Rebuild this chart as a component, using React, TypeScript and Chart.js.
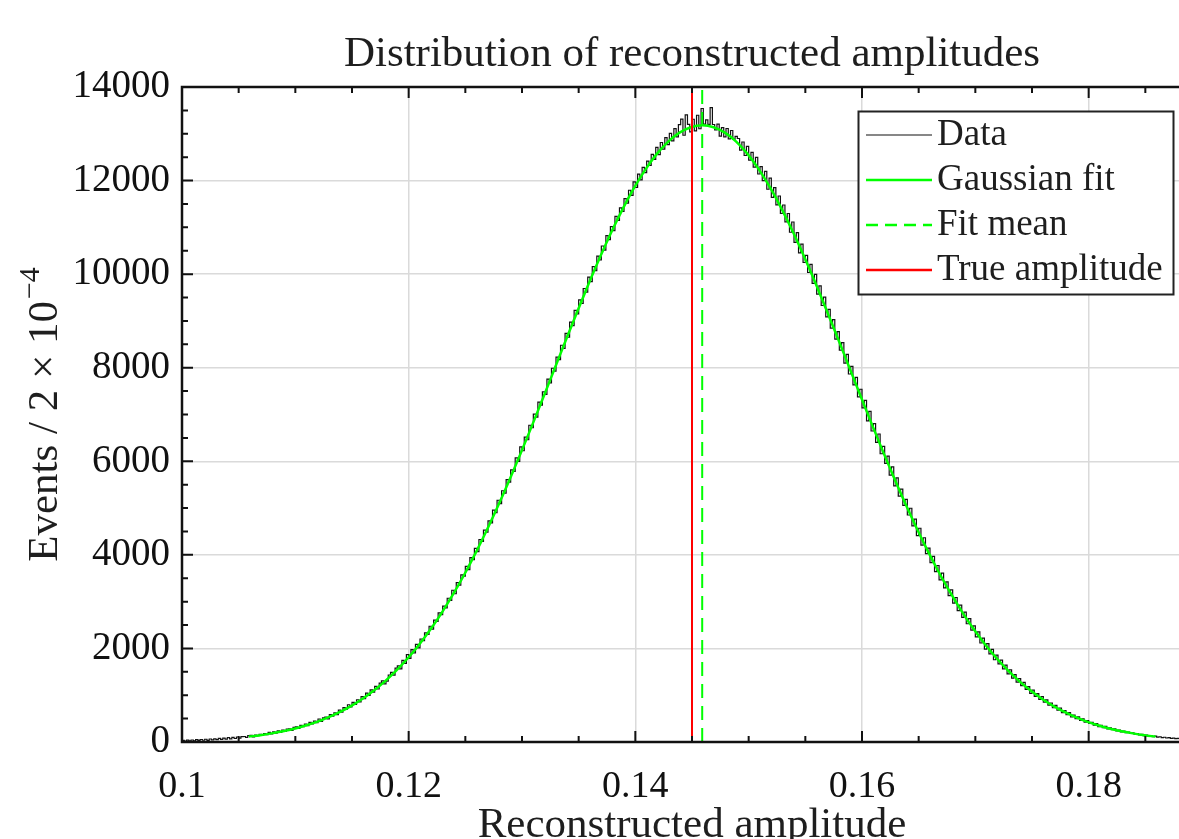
import React, { useEffect, useRef } from "react";
import { Chart, registerables } from "chart.js";

Chart.register(...registerables);

const CHART_TITLE = "Distribution of reconstructed amplitudes";
const X_TITLE = "Reconstructed amplitude";
const Y_TITLE_MAIN = "Events / 2 × 10";
const Y_TITLE_EXP = "−4";

const X_MIN = 0.1;
const X_MAX = 0.19;
const Y_MIN = 0;
const Y_MAX = 14000;
const X_TICKS = [0.1, 0.12, 0.14, 0.16, 0.18];
const Y_TICKS = [0, 2000, 4000, 6000, 8000, 10000, 12000, 14000];
const X_MINOR_STEP = 0.005;
const Y_MINOR_STEP = 500;

const LEGEND_LABELS = ["Data", "Gaussian fit", "Fit mean", "True amplitude"];

// histogram: bins of width 2e-4 starting at 0.1
const BIN_START = 0.1;
const BIN_WIDTH = 0.0002;
const DATA_COUNTS = [
  35, 20, 40, 23, 43,
  23, 51, 33, 53, 37,
  59, 34, 64, 45, 67,
  50, 77, 55, 82, 61,
  93, 65, 97, 75, 107,
  82, 115, 118, 97, 138,
  140, 110, 150, 134, 164,
  140, 179, 155, 204, 174,
  217, 190, 236, 205, 252,
  225, 274, 279, 250, 311,
  322, 292, 357, 327, 384,
  352, 418, 385, 445, 413,
  492, 441, 516, 531, 496,
  584, 552, 625, 587, 683,
  639, 735, 700, 796, 750,
  846, 801, 903, 856, 972,
  927, 1046, 997, 1114, 1063,
  1187, 1133, 1260, 1306, 1244,
  1302, 1432, 1489, 1431, 1579,
  1625, 1565, 1744, 1680, 1866,
  1788, 1976, 1904, 2086, 2012,
  2201, 2166, 2334, 2301, 2474,
  2412, 2605, 2579, 2758, 2724,
  2906, 2865, 3073, 3026, 3244,
  3169, 3405, 3350, 3572, 3543,
  3753, 3685, 3940, 3898, 4140,
  4067, 4328, 4286, 4527, 4486,
  4725, 4685, 4958, 4902, 5167,
  5097, 5370, 5318, 5607, 5555,
  5816, 5783, 6074, 5995, 6306,
  6225, 6515, 6460, 6770, 6717,
  7006, 6946, 7265, 7201, 7482,
  7431, 7754, 7676, 7989, 7926,
  8225, 8174, 8480, 8415, 8736,
  8651, 8974, 8900, 9227, 9148,
  9448, 9374, 9693, 9613, 9935,
  9842, 10159, 10075, 10384, 10305,
  10602, 10513, 10822, 10737, 11014,
  10931, 11236, 11147, 11418, 11343,
  11612, 11516, 11793, 11685, 11972,
  11854, 12139, 12017, 12280, 12170,
  12414, 12326, 12561, 12451, 12709,
  12556, 12814, 12671, 12919, 12768,
  13008, 12850, 13111, 12933, 13195,
  13312, 12969, 13405, 13202, 13039,
  13311, 13063, 13396, 13108, 13540,
  13208, 13296, 13203, 13560, 13199,
  13082, 13205, 12949, 13132, 12935,
  13113, 12891, 13070, 12888, 12946,
  12899, 12651, 12824, 12536, 12729,
  12435, 12601, 12288, 12494, 12140,
  12298, 11997, 12195, 11814, 12052,
  11641, 11851, 11480, 11670, 11299,
  11478, 11117, 11296, 10895, 11114,
  10681, 10888, 10455, 10642, 10249,
  10402, 10035, 10209, 9802, 9995,
  9573, 9751, 9330, 9508, 9086,
  9247, 8848, 9030, 8611, 8772,
  8375, 8538, 8100, 8283, 7866,
  8029, 7632, 7794, 7377, 7540,
  7141, 7303, 6864, 7066, 6647,
  6806, 6404, 6583, 6161, 6320,
  5955, 6110, 5705, 5880, 5475,
  5645, 5256, 5406, 5057, 5187,
  4852, 4996, 4621, 4765, 4410,
  4569, 4208, 4366, 4025, 4144,
  3836, 3968, 3641, 3773, 3465,
  3610, 3296, 3421, 3127, 3252,
  2970, 3089, 2807, 2926, 2664,
  2776, 2527, 2639, 2390, 2482,
  2247, 2352, 2116, 2221, 1986,
  2104, 1882, 1980, 1758, 1856,
  1668, 1750, 1561, 1643, 1455,
  1541, 1367, 1442, 1278, 1354,
  1204, 1274, 1125, 1185, 1041,
  1110, 975, 1034, 909, 970,
  850, 901, 787, 832, 732,
  782, 680, 723, 629, 673,
  585, 627, 538, 576, 498,
  537, 460, 495, 426, 457,
  395, 421, 360, 392, 330,
  357, 307, 332, 282, 303,
  262, 279, 236, 257, 216,
  235, 198, 214, 183, 196,
  168, 179, 151, 162, 136,
  148, 126, 136, 114, 124,
  105, 112, 95, 102, 85,
  93, 77, 83, 71, 77,
  64, 69, 57, 62, 51,
  57, 46, 50, 43, 47,
];

// Gaussian fit curve sampled every 0.001 from 0.1059
const FIT_START = 0.1059;
const FIT_STEP = 0.001;
const FIT_VALUES = [
  116, 146, 184, 230, 285, 352, 431, 526, 637, 768,
  920, 1095, 1296, 1525, 1784, 2074, 2398, 2756, 3148, 3575,
  4036, 4530, 5053, 5605, 6180, 6773, 7380, 7994, 8608, 9214,
  9805, 10371, 10906, 11401, 11848, 12240, 12571, 12834, 13025, 13141,
  13180,
  13141, 13025, 12834, 12571, 12240, 11848, 11401, 10906, 10371, 9805,
  9214, 8608, 7994, 7380, 6773, 6180, 5605, 5053, 4530, 4036,
  3575, 3148, 2756, 2398, 2074, 1784, 1525, 1296, 1095, 920,
  768, 637, 526, 431, 352, 285, 230, 184, 146, 116,
];

const FIT_MEAN = 0.1459;
const TRUE_AMPLITUDE = 0.145;

const SERIF = '"Liberation Serif", "Times New Roman", serif';
const GREEN = "#00ff00";
const RED = "#ff0000";
const DATA_COLOR = "#111111";
const TEXT_COLOR = "#1e1e1e";

const decorPlugin = {
  id: "decor",
  afterDatasetsDraw(chart: any) {
    const { ctx, chartArea: a, scales } = chart;
    const xs = scales.x;
    const ys = scales.y;
    ctx.save();
    ctx.strokeStyle = "#111";
    ctx.lineWidth = 2;
    ctx.beginPath();
    const nx = Math.round((X_MAX - X_MIN) / X_MINOR_STEP);
    for (let i = 0; i <= nx; i++) {
      const v = X_MIN + i * X_MINOR_STEP;
      const px = xs.getPixelForValue(v);
      const len = i % 4 === 0 ? 11 : 6;
      ctx.moveTo(px, a.bottom);
      ctx.lineTo(px, a.bottom - len);
      ctx.moveTo(px, a.top);
      ctx.lineTo(px, a.top + len);
    }
    const ny = Math.round((Y_MAX - Y_MIN) / Y_MINOR_STEP);
    for (let i = 0; i <= ny; i++) {
      const v = Y_MIN + i * Y_MINOR_STEP;
      const py = ys.getPixelForValue(v);
      const len = i % 4 === 0 ? 11 : 6;
      ctx.moveTo(a.left, py);
      ctx.lineTo(a.left + len, py);
      ctx.moveTo(a.right, py);
      ctx.lineTo(a.right - len, py);
    }
    ctx.stroke();
    ctx.lineWidth = 2.5;
    ctx.strokeRect(a.left, a.top, a.right - a.left, a.bottom - a.top);
    ctx.restore();
  },
  afterDraw(chart: any) {
    const { ctx, chartArea: a } = chart;
    ctx.save();
    // y axis title with superscript
    const cy = (a.top + a.bottom) / 2;
    ctx.font = `43px ${SERIF}`;
    const w1 = ctx.measureText(Y_TITLE_MAIN).width;
    ctx.font = `30px ${SERIF}`;
    const w2 = ctx.measureText(Y_TITLE_EXP).width;
    const total = w1 + 2 + w2;
    ctx.translate(42, cy);
    ctx.rotate(-Math.PI / 2);
    ctx.fillStyle = TEXT_COLOR;
    ctx.textBaseline = "alphabetic";
    ctx.textAlign = "left";
    ctx.font = `43px ${SERIF}`;
    ctx.fillText(Y_TITLE_MAIN, -total / 2, 14.5);
    ctx.font = `30px ${SERIF}`;
    ctx.fillText(Y_TITLE_EXP, -total / 2 + w1 + 2, -3);
    ctx.restore();

    // legend box
    ctx.save();
    const bx = 858.5, by = 111.5, bw = 315, bh = 183;
    ctx.fillStyle = "#ffffff";
    ctx.fillRect(bx, by, bw, bh);
    ctx.strokeStyle = "#222";
    ctx.lineWidth = 2;
    ctx.strokeRect(bx, by, bw, bh);
    const rows = [135, 180, 225, 270];
    const styles = [
      { color: DATA_COLOR, width: 1.2, dash: [] as number[] },
      { color: GREEN, width: 2.5, dash: [] as number[] },
      { color: GREEN, width: 2.5, dash: [12, 7] },
      { color: RED, width: 2.5, dash: [] as number[] },
    ];
    LEGEND_LABELS.forEach((label, i) => {
      const s = styles[i];
      ctx.beginPath();
      ctx.setLineDash(s.dash);
      ctx.strokeStyle = s.color;
      ctx.lineWidth = s.width;
      ctx.moveTo(866, rows[i]);
      ctx.lineTo(932, rows[i]);
      ctx.stroke();
      ctx.setLineDash([]);
      ctx.fillStyle = TEXT_COLOR;
      ctx.font = `37px ${SERIF}`;
      ctx.textBaseline = "middle";
      ctx.textAlign = "left";
      ctx.fillText(label, 937, rows[i]);
    });
    ctx.restore();
  },
};

export default function App() {
  const ref = useRef<HTMLCanvasElement>(null);

  useEffect(() => {
    const canvas = ref.current;
    if (!canvas) return;
    const histPoints = DATA_COUNTS.map((c, i) => ({ x: BIN_START + i * BIN_WIDTH, y: c }));
    histPoints.push({
      x: BIN_START + DATA_COUNTS.length * BIN_WIDTH,
      y: DATA_COUNTS[DATA_COUNTS.length - 1],
    });
    const fitPoints = FIT_VALUES.map((v, i) => ({ x: FIT_START + i * FIT_STEP, y: v }));

    const chart = new Chart(canvas, {
      type: "line",
      data: {
        datasets: [
          {
            label: LEGEND_LABELS[3],
            data: [
              { x: TRUE_AMPLITUDE, y: Y_MIN },
              { x: TRUE_AMPLITUDE, y: Y_MAX },
            ],
            borderColor: RED,
            borderWidth: 2,
            pointRadius: 0,
          },
          {
            label: LEGEND_LABELS[2],
            data: [
              { x: FIT_MEAN, y: Y_MIN },
              { x: FIT_MEAN, y: Y_MAX },
            ],
            borderColor: GREEN,
            borderWidth: 2,
            borderDash: [14, 8],
            pointRadius: 0,
          },
          {
            label: LEGEND_LABELS[1],
            data: fitPoints,
            borderColor: GREEN,
            borderWidth: 2.5,
            pointRadius: 0,
            cubicInterpolationMode: "monotone",
          },
          {
            label: LEGEND_LABELS[0],
            data: histPoints,
            borderColor: DATA_COLOR,
            borderWidth: 1.2,
            pointRadius: 0,
            stepped: true,
          },
        ] as any,
      },
      options: {
        responsive: false,
        animation: false,
        devicePixelRatio: 1,
        layout: { padding: 0 },
        plugins: {
          legend: { display: false },
          tooltip: { enabled: false },
          title: {
            display: true,
            text: CHART_TITLE,
            fullSize: false,
            color: TEXT_COLOR,
            font: { family: SERIF, size: 43, weight: "normal" },
            padding: { top: 29, bottom: 6.4 },
          },
        },
        scales: {
          x: {
            type: "linear",
            min: X_MIN,
            max: X_MAX,
            afterBuildTicks: (s: any) => {
              s.ticks = X_TICKS.map((v) => ({ value: v }));
            },
            afterFit: (s: any) => {
              s.height = 97;
            },
            grid: { color: "#dadada", lineWidth: 1.5, drawTicks: false },
            border: { display: false },
            ticks: {
              padding: 22,
              color: "#111",
              maxRotation: 0,
              autoSkip: false,
              font: { family: SERIF, size: 38 },
              callback: (v: any) => Number(v).toFixed(2).replace(/0$/, ""),
            },
            title: {
              display: true,
              text: X_TITLE,
              color: TEXT_COLOR,
              font: { family: SERIF, size: 43 },
              padding: { top: 0, bottom: -13 },
            },
          },
          y: {
            type: "linear",
            min: Y_MIN,
            max: Y_MAX,
            afterBuildTicks: (s: any) => {
              s.ticks = Y_TICKS.map((v) => ({ value: v }));
            },
            afterFit: (s: any) => {
              s.width = 182;
            },
            grid: { color: "#dadada", lineWidth: 1.5, drawTicks: false },
            border: { display: false },
            ticks: {
              padding: 12,
              color: "#111",
              autoSkip: false,
              font: { family: SERIF, size: 39 },
              callback: (v: any) => String(v),
            },
            title: { display: false },
          },
        },
      } as any,
      plugins: [decorPlugin],
    });
    return () => chart.destroy();
  }, []);

  return (
    <div
      style={{
        position: "absolute",
        left: 0,
        top: 0,
        width: 1179,
        height: 839,
        overflow: "hidden",
        background: "#ffffff",
      }}
    >
      <canvas ref={ref} width={1202} height={839} style={{ display: "block", width: 1202, height: 839 }} />
    </div>
  );
}
